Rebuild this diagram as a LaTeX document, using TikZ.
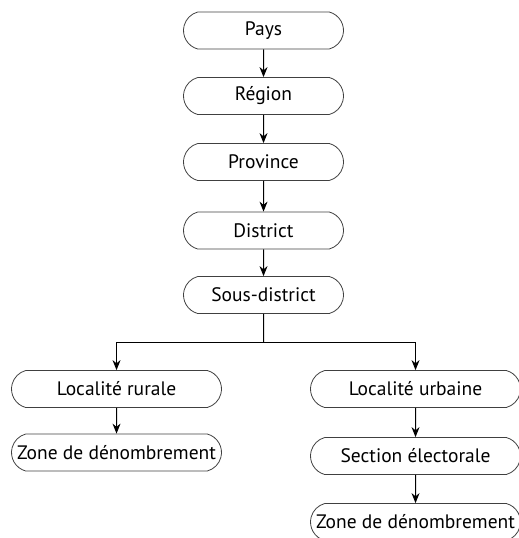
\documentclass[tikz,border=0pt]{standalone}
\usepackage{fontspec}
\setmainfont{PT Sans}
\usetikzlibrary{shapes.misc,arrows.meta}
\begin{document}
\begin{tikzpicture}[x=1pt,y=-1pt,
  lvl/.style={rounded rectangle, rounded rectangle arc length=150, draw=black!75, line width=0.8pt,
    minimum height=37pt, inner sep=0pt, font=\fontsize{19.5}{22}\selectfont, text=black},
  narrowbox/.style={lvl, minimum width=160pt},
  widebox/.style={lvl, minimum width=210pt},
  link/.style={line width=1pt, draw=black, -{Stealth[length=10pt,width=8pt]}},
  trunk/.style={line width=1pt, draw=black}]
\useasboundingbox (0,0) rectangle (519,538);

% administrative chain
\node[narrowbox] (pays)  at (263.5,30.5) {Pays};
\node[narrowbox] (reg)   at (263.5,96)   {Région};
\node[narrowbox] (prov)  at (263.5,162)  {Province};
\node[narrowbox] (dist)  at (263.5,230.5){District};
\node[narrowbox] (sdist) at (263.5,295)  {Sous-district};

% rural branch
\node[widebox] (rur)   at (116.5,389) {Localité rurale};
\node[widebox] (zrur)  at (116.5,452.5) {Zone de dénombrement};

% urban branch
\node[widebox] (urb)   at (415.5,389) {Localité urbaine};
\node[widebox] (sect)  at (415.5,456) {Section électorale};
\node[widebox] (zurb)  at (415.5,522) {Zone de dénombrement};

\coordinate (split) at (263.5,342.5);

\draw[link] (pays) -- (reg);
\draw[link] (reg) -- (prov);
\draw[link] (prov) -- (dist);
\draw[link] (dist) -- (sdist);
\draw[trunk] (sdist) -- (split);
\draw[link] (split) -| (rur);
\draw[link] (split) -| (urb);
\draw[link] (rur) -- (zrur);
\draw[link] (urb) -- (sect);
\draw[link] (sect) -- (zurb);
\end{tikzpicture}
\end{document}
